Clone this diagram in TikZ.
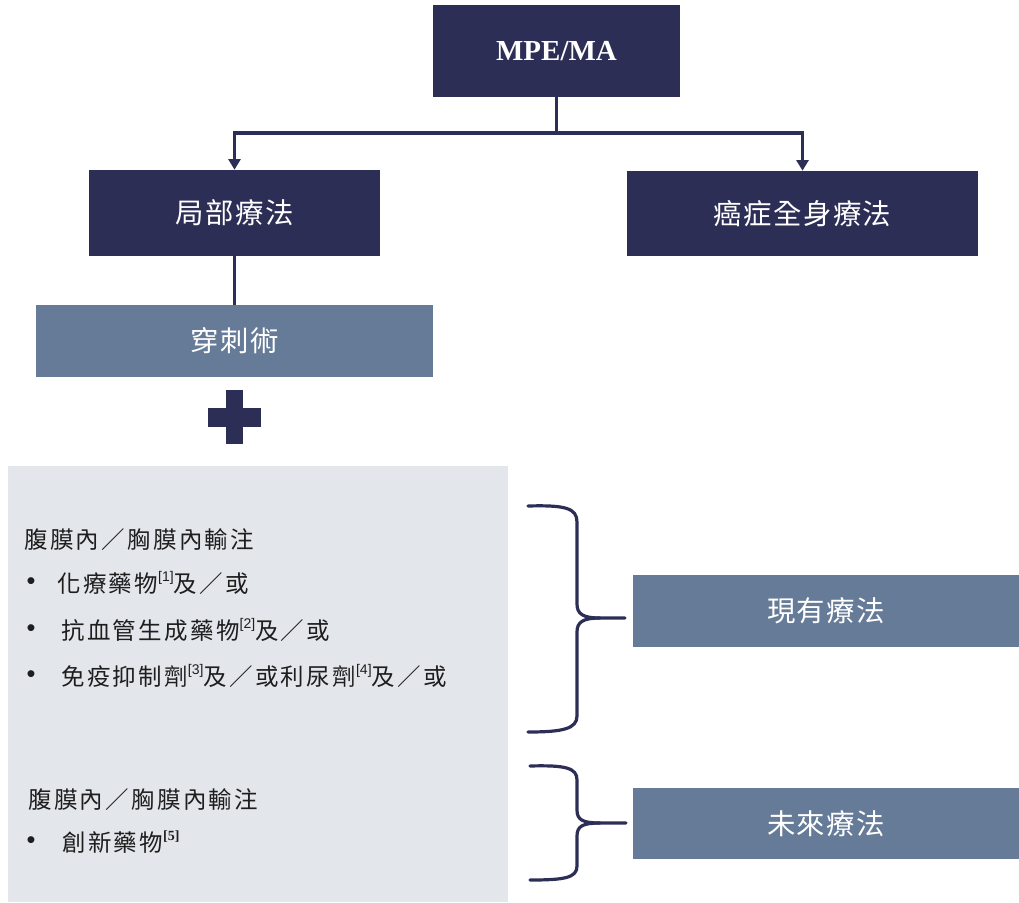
\documentclass[tikz,border=0pt]{standalone}
\usepackage{fontspec}
\setmainfont{Liberation Sans}
\newfontfamily\cjk[LetterSpace=5]{Noto Sans CJK TC}
\newfontfamily\cjkb[LetterSpace=10]{Noto Sans CJK TC}
\newfontfamily\tms{Liberation Serif}
\usetikzlibrary{arrows.meta}
\definecolor{navy}{HTML}{2D2E55}
\definecolor{slate}{HTML}{667B97}
\definecolor{panelgray}{HTML}{E3E6EB}
\definecolor{bodytext}{HTML}{1E1E1E}
\newcommand\refmark[1]{\raisebox{0.5em}{\fontsize{10.5}{11}\selectfont\rmfamily[#1]}}
\newcommand\refmarkb[1]{\raisebox{0.5em}{\fontsize{10.5}{11}\selectfont\tms\bfseries[#1]}}
\begin{document}
\begin{tikzpicture}[x=0.75pt,y=-0.75pt,
  darkbox/.style={rectangle, inner sep=0pt, fill=navy, text=white, font=\cjk\fontsize{21.3}{25}\selectfont},
  lightbox/.style={rectangle, inner sep=0pt, fill=slate, text=white, font=\cjk\fontsize{21.3}{25}\selectfont},
  conn/.style={draw=navy, line width=2.3pt},
  arr/.style={-{Triangle[width=9pt,length=8pt]}},
  bracepath/.style={draw=navy, line width=2.4pt, line cap=round},
  body/.style={anchor=west, inner sep=0pt, text=bodytext, font=\cjkb\fontsize{17.6}{20}\selectfont},
  dot/.style={inner sep=0pt, text=bodytext, font=\rmfamily\fontsize{19}{19}\selectfont},
]
\useasboundingbox (0,0) rectangle (1019,902);

% panel
\fill[panelgray] (8,466) rectangle (508,902);

% boxes
\node[darkbox, minimum width={247*0.75pt}, minimum height={92*0.75pt}] (mpe) at (556.5,51)
  {\tms\bfseries\fontsize{21.75}{24}\selectfont MPE/MA};
\node[darkbox, minimum width={291*0.75pt}, minimum height={86*0.75pt}] (loc) at (234.5,213) {局部療法};
\node[darkbox, minimum width={351*0.75pt}, minimum height={85*0.75pt}] (sys) at (802.5,213.5) {癌症全身療法};
\node[lightbox, minimum width={397*0.75pt}, minimum height={72*0.75pt}] (punc) at (234.5,341) {穿刺術};
\node[lightbox, minimum width={386*0.75pt}, minimum height={72*0.75pt}] (now) at (826,611) {現有療法};
\node[lightbox, minimum width={386*0.75pt}, minimum height={71*0.75pt}] (fut) at (826,823.5) {未來療法};

% connectors
\coordinate (split) at (556.5,133);
\draw[conn] (mpe.south) -- (split);
\draw[conn,arr] (split) -| (loc.north);
\draw[conn,arr] (split) -| (sys.north);
\draw[conn] (loc.south) -- (punc.north);

% plus sign
\fill[navy] (226,390) rectangle (243,444);
\fill[navy] (208,408) rectangle (261,427);

% braces
\coordinate (b1top) at (528,506);
\coordinate (b1tip) at (625,618);
\coordinate (b1bot) at (528,732);
\draw[bracepath] (b1top) .. controls (565,505) and (577,508) .. (577,522) -- (577,604)
  .. controls (577,614) and (583,618) .. (600,618) -- (b1tip);
\draw[bracepath] (600,618) .. controls (583,618) and (577,622) .. (577,632) -- (577,716)
  .. controls (577,729) and (562,732) .. (b1bot);
\coordinate (b2top) at (530,766);
\coordinate (b2tip) at (626,823);
\coordinate (b2bot) at (530,880);
\draw[bracepath] (b2top) .. controls (566,765) and (577,768) .. (577,780) -- (577,810)
  .. controls (577,820) and (583,823) .. (600,823) -- (b2tip);
\draw[bracepath] (600,823) .. controls (583,823) and (577,826) .. (577,836) -- (577,866)
  .. controls (577,878) and (564,880) .. (b2bot);

% texts
\node[body] (h1) at (24,540) {腹膜內／胸膜內輸注};
\node[dot] (d1) at (31,584) {•};
\node[body] (t1) at (57,583) {化療藥物\refmark{1}及／或};
\node[dot] (d2) at (31,631) {•};
\node[body] (t2) at (61,630) {抗血管生成藥物\refmark{2}及／或};
\node[dot] (d3) at (31,677) {•};
\node[body] (t3) at (61,676) {免疫抑制劑\refmark{3}及／或利尿劑\refmark{4}及／或};
\node[body] (h2) at (28,800) {腹膜內／胸膜內輸注};
\node[dot] (d4) at (31,843) {•};
\node[body] (t4) at (62,842) {創新藥物\refmarkb{5}};
\end{tikzpicture}
\end{document}
